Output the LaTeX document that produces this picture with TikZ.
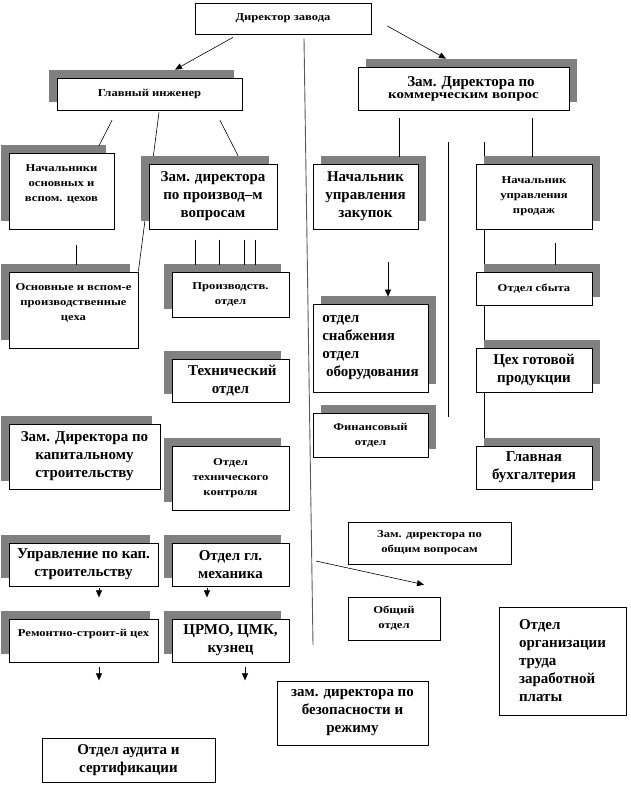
\documentclass[tikz,border=0pt]{standalone}
\usepackage{fontspec}
\setmainfont{Liberation Serif}
\newfontfamily\widefont{Liberation Serif}[FakeStretch=1.2]
\usetikzlibrary{arrows.meta,shadows,backgrounds}
\definecolor{shadegray}{RGB}{128,128,128}
\tikzset{
	box/.style={draw, fill=white, line width=.7pt, inner sep=2pt, align=center},
	shl/.style={general shadow={fill=shadegray, shadow xshift=-8pt, shadow yshift=8pt}},
	shr/.style={general shadow={fill=shadegray, shadow xshift=8pt, shadow yshift=8pt}},
	sm/.style={font=\widefont\bfseries\fontsize{10.5}{15}\selectfont},
	bg/.style={font=\bfseries\fontsize{15}{18}\selectfont},
	arr/.style={-{Triangle[length=7pt,width=6pt]}},
	ln/.style={line width=.6pt}
}
\begin{document}
\begin{tikzpicture}[x=1pt,y=-1pt]
		\useasboundingbox (0,0) rectangle (630,785);
		% top
		\node[box,sm,minimum width=176pt,minimum height=31pt] (dir) at (283,18.5){Директор завода};
		\node[box,sm,shl,minimum width=185pt,minimum height=32pt] (gi) at (149.5,94){Главный инженер};
		\node[box,shr,minimum width=211pt,minimum height=43pt] (zk) at (463.5,88.5){{\bfseries\fontsize{15}{18}\selectfont\quad Зам. Директора по}\\{\widefont\bfseries\fontsize{12.5}{14}\selectfont коммерческим\ вопрос}};
		% left part
		\node[box,sm,shl,minimum width=105pt,minimum height=76pt] (nach) at (61.5,191){Начальники\\основных и\\вспом. цехов\\\mbox{}};
		\node[box,bg,shl,minimum width=128pt,minimum height=65pt] (zp) at (213,196.5){Зам. директора\\по производ--м\\вопросам};
		\node[box,sm,shl,minimum width=129pt,minimum height=76pt] (osn) at (73.5,310){Основные и вспом-е\\производственные\\цеха\\\mbox{}};
		\node[box,sm,shl,minimum width=117pt,minimum height=45pt] (pr) at (230.5,294.5){Производств.\\отдел};
		\node[box,bg,shl,minimum width=117pt,minimum height=43pt] (te) at (230.5,380.5){\ Технический\\отдел};
		\node[box,bg,shl,minimum width=151pt,minimum height=65pt] (zks) at (84.5,456.5){Зам. Директора по\\капитальному\\строительству};
		\node[box,sm,shl,minimum width=117pt,minimum height=64pt] (otk) at (230.5,478){Отдел\\технического\\контроля};
		\node[box,bg,shl,minimum width=149pt,minimum height=43pt] (uks) at (83.5,564.5){Управление по кап.\\строительству};
		\node[box,bg,shl,minimum width=117pt,minimum height=43pt] (ogm) at (230.5,564.5){Отдел гл.\\механика};
		\node[box,sm,shl,minimum width=149pt,minimum height=43pt] (rsc) at (83.5,640.5){Ремонтно-строит-й цех\\\mbox{}};
		\node[box,bg,shl,minimum width=117pt,minimum height=43pt] (crmo) at (230.5,640.5){ЦРМО, ЦМК,\\кузнец};
		\node[box,bg,minimum width=173pt,minimum height=44pt] (aud) at (128.5,760){Отдел аудита и\\сертификации};
		% right part
		\node[box,bg,shr,minimum width=105pt,minimum height=65pt] (nz) at (365.5,196.5){Начальник\\управления\\закупок};
		\node[box,sm,shr,minimum width=116pt,minimum height=65pt] (np) at (534,196.5){Начальник\\управления\\продаж};
		\node[box,bg,shr,align=left,minimum width=115pt,minimum height=88pt] (sn) at (370.5,348){отдел\\снабжения\\отдел\\\ оборудования};
		\node[box,sm,shr,minimum width=115pt,minimum height=44pt] (fin) at (370.5,435){Финансовый\\отдел};
		\node[box,sm,shr,minimum width=116pt,minimum height=33pt] (sb) at (534,288.5){Отдел\ сбыта};
		\node[box,bg,shr,minimum width=116pt,minimum height=44pt] (cgp) at (534,370){Цех готовой\\продукции};
		\node[box,bg,shr,minimum width=116pt,minimum height=43pt] (gb) at (534,467.5){Главная\\бухгалтерия};
		\node[box,sm,minimum width=163pt,minimum height=42pt] (zo) at (429.5,543){Зам. директора по\\общим вопросам};
		\node[box,sm,minimum width=92pt,minimum height=43pt] (oo) at (394,618.5){Общий\\отдел};
		\node[box,bg,align=left,minimum width=127pt,minimum height=108pt] (ot) at (562.5,661){Отдел\\организации\\труда\\заработной\\платы};
		\node[box,bg,minimum width=151pt,minimum height=64pt] (zb) at (352.5,713){зам. директора по\\безопасности и\\режиму};
		\coordinate (vt) at (448,142);
		\coordinate (vb) at (448,417);
		\coordinate (lb) at (313,645);
		\coordinate (la) at (316,561);
		\begin{scope}[on background layer]
		\draw[ln] ([xshift=9.5pt,yshift=-2pt]gi.south)--(osn.north east);
		\draw[ln] ([xshift=-50pt,yshift=22pt]np.north)--([xshift=-50pt,yshift=6pt]gb.north);
		\end{scope}
		% connectors
		\draw[ln,arr] ([xshift=-50pt,yshift=-3pt]dir.south)--([xshift=25.5pt,yshift=8pt]gi.north);
		\draw[ln,arr] ([xshift=16pt,yshift=-7.5pt]dir.east)--([xshift=-17.5pt,yshift=8pt]zk.north);
		\draw[line width=.9pt,black!65] ([xshift=21pt,yshift=-4pt]dir.south)--(lb);
		\draw[ln,arr] (la)--([xshift=30pt,yshift=12pt]oo.north);
		\draw[ln] ([xshift=-37.5pt,yshift=-10pt]gi.south)--([xshift=37.5pt,yshift=7pt]nach.north);
		\draw[ln] ([xshift=70.5pt,yshift=-10pt]gi.south)--([xshift=25pt,yshift=8pt]zp.north);
		\foreach \dx in {-35.5,-11.5,13.5,24.5}
			\draw[ln] ([xshift=\dx pt,yshift=32pt]pr.north)--([xshift=\dx pt,yshift=7pt]pr.north);
		\draw[ln] ([xshift=2.5pt,yshift=27pt]osn.north)--([xshift=2.5pt,yshift=7pt]osn.north);
		\draw[ln] ([xshift=-64.5pt,yshift=-8pt]zk.south)--([xshift=33.5pt,yshift=7pt]nz.north);
		\draw[ln] ([xshift=68.5pt,yshift=-8pt]zk.south)--([xshift=-2pt,yshift=7pt]np.north);
		\draw[ln] (vt)--(vb);
		\draw[ln] ([xshift=21pt,yshift=-14pt]np.south)--([xshift=21pt,yshift=7pt]sb.north);
		\draw[ln,arr] ([xshift=17.5pt,yshift=42pt]sn.north)--([xshift=17.5pt,yshift=7pt]sn.north);
		\draw[ln,arr] ([xshift=15.5pt,yshift=-2pt]uks.south)--([xshift=15.5pt,yshift=-11pt]uks.south);
		\draw[ln,arr] ([xshift=-23.5pt,yshift=-2pt]ogm.south)--([xshift=-23.5pt,yshift=-11pt]ogm.south);
		\draw[ln,arr] ([xshift=15.5pt,yshift=-5pt]rsc.south)--([xshift=15.5pt,yshift=-18pt]rsc.south);
		\draw[ln,arr] ([xshift=14.5pt,yshift=-5pt]crmo.south)--([xshift=14.5pt,yshift=-18pt]crmo.south);
		\end{tikzpicture}
\end{document}
